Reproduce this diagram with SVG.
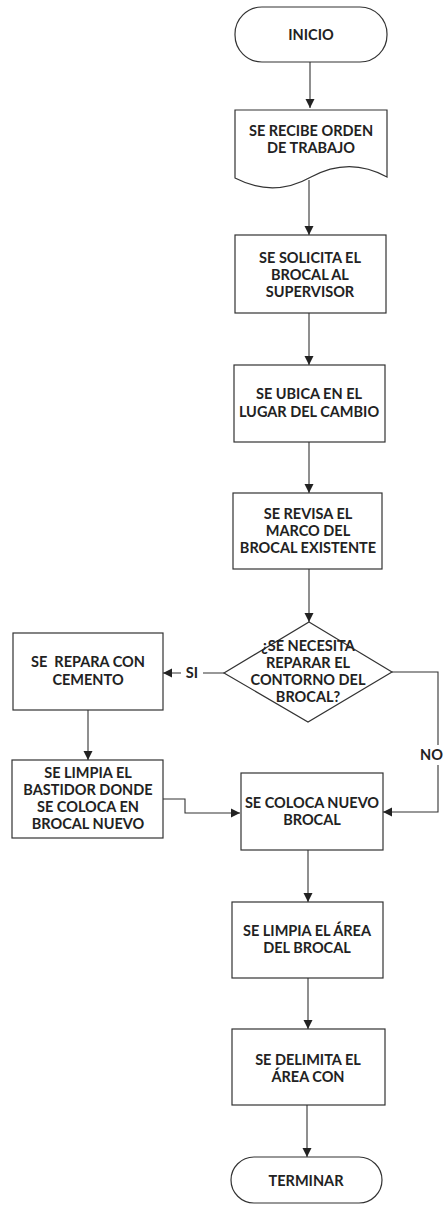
<svg xmlns="http://www.w3.org/2000/svg" width="444" height="1207" viewBox="0 0 444 1207">
<style>
.s{fill:#fff;stroke:#333;stroke-width:1.2}
.t{font-family:Lato,"Open Sans","Liberation Sans",sans-serif;font-weight:bold;font-size:14.5px;fill:#222;text-anchor:middle}
.c{fill:none;stroke:#333;stroke-width:1.1}
</style>
<defs>
<marker id="a" markerWidth="10" markerHeight="10" refX="9" refY="5" orient="auto" markerUnits="userSpaceOnUse">
<path d="M0,0.5 L9,5 L0,9.5 Z" fill="#222"/>
</marker>
</defs>
<rect width="444" height="1207" fill="#fff"/>
<g id="connectors">
<path class="c" d="M310,62 V108" marker-end="url(#a)"/>
<path class="c" d="M309,180 V235" marker-end="url(#a)"/>
<path class="c" d="M309,313 V365" marker-end="url(#a)"/>
<path class="c" d="M309,442 V493" marker-end="url(#a)"/>
<path class="c" d="M309,569 V622" marker-end="url(#a)"/>
<path class="c" d="M224,673 H203 M181,673 H163" marker-end="url(#a)"/>
<path class="c" d="M88,710 V760" marker-end="url(#a)"/>
<path class="c" d="M163,799 H185 V813 H240" marker-end="url(#a)"/>
<path class="c" d="M392,672 H438 V745 M438,765 V812 H383" marker-end="url(#a)"/>
<path class="c" d="M308,850 V902" marker-end="url(#a)"/>
<path class="c" d="M308,978 V1029" marker-end="url(#a)"/>
<path class="c" d="M307,1105 V1157" marker-end="url(#a)"/>
<text class="t" x="192" y="678">SI</text>
<text class="t" x="443" y="760" style="text-anchor:end">NO</text>
</g>
<g id="inicio">
<rect class="s" x="235" y="7" width="152" height="55" rx="27"/>
<text class="t" x="311" y="40">INICIO</text>
</g>
<g id="orden">
<path class="s" d="M235,110 H387 V177 C360,162 335,164 311,177 C288,190 262,192 235,178 Z"/>
<text class="t" x="311" y="136">SE RECIBE ORDEN</text>
<text class="t" x="311" y="153">DE TRABAJO</text>
</g>
<g id="solicita">
<rect class="s" x="235" y="235" width="151" height="78"/>
<text class="t" x="310" y="263">SE SOLICITA EL</text>
<text class="t" x="310" y="280">BROCAL AL</text>
<text class="t" x="310" y="297">SUPERVISOR</text>
</g>
<g id="ubica">
<rect class="s" x="234" y="365" width="151" height="77"/>
<text class="t" x="309" y="399">SE UBICA EN EL</text>
<text class="t" x="309" y="417">LUGAR DEL CAMBIO</text>
</g>
<g id="revisa">
<rect class="s" x="233" y="493" width="149" height="76"/>
<text class="t" x="308" y="519">SE REVISA EL</text>
<text class="t" x="308" y="536">MARCO DEL</text>
<text class="t" x="308" y="553">BROCAL EXISTENTE</text>
</g>
<g id="decision">
<path class="s" d="M309,622 L392,672 L308,722 L224,673 Z"/>
<text class="t" x="308" y="651">¿SE NECESITA</text>
<text class="t" x="308" y="668">REPARAR EL</text>
<text class="t" x="308" y="685">CONTORNO DEL</text>
<text class="t" x="308" y="702">BROCAL?</text>
</g>
<g id="repara">
<rect class="s" x="13" y="633" width="150" height="77"/>
<text class="t" x="88" y="667" xml:space="preserve">SE  REPARA CON</text>
<text class="t" x="88" y="685">CEMENTO</text>
</g>
<g id="limpia-bastidor">
<rect class="s" x="12" y="760" width="151" height="78"/>
<text class="t" x="88" y="778">SE LIMPIA EL</text>
<text class="t" x="88" y="795">BASTIDOR DONDE</text>
<text class="t" x="88" y="812">SE COLOCA EN</text>
<text class="t" x="88" y="829">BROCAL NUEVO</text>
</g>
<g id="coloca">
<rect class="s" x="241" y="773" width="142" height="77"/>
<text class="t" x="312" y="808">SE COLOCA NUEVO</text>
<text class="t" x="312" y="825">BROCAL</text>
</g>
<g id="limpia-area">
<rect class="s" x="232" y="902" width="151" height="76"/>
<text class="t" x="307" y="936">SE LIMPIA EL ÁREA</text>
<text class="t" x="307" y="953">DEL BROCAL</text>
</g>
<g id="delimita">
<rect class="s" x="232" y="1029" width="153" height="76"/>
<text class="t" x="308" y="1065">SE DELIMITA EL</text>
<text class="t" x="308" y="1082">ÁREA CON</text>
</g>
<g id="terminar">
<rect class="s" x="231" y="1157" width="151" height="46" rx="23"/>
<text class="t" x="306" y="1186">TERMINAR</text>
</g>
</svg>
